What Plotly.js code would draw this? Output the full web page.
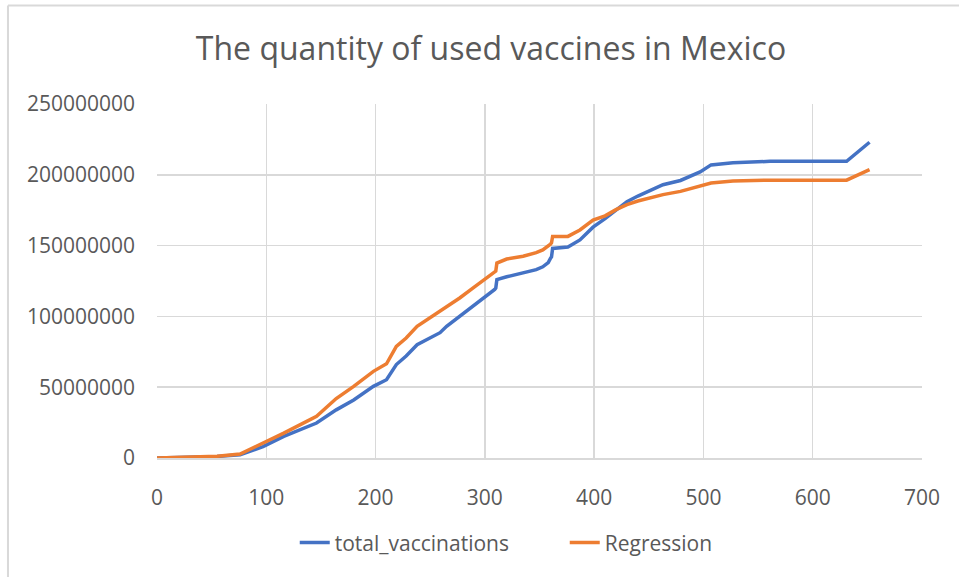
<!DOCTYPE html>
<html>
<head>
<meta charset="utf-8">
<script src="https://cdn.plot.ly/plotly-3.0.1.min.js"></script>
<style>
  html, body { margin: 0; padding: 0; background: #ffffff; }
  #chart { width: 959px; height: 577px; }
</style>
</head>
<body>
<div id="chart"></div>
<script>
// Day index since start of vaccination
const days = [0, 20, 40, 55, 76, 97, 116, 137, 146, 164, 180, 198, 204, 210, 219, 228, 238, 250, 259, 265, 277, 289, 300, 309, 310, 311, 320, 335, 347, 353, 358, 360, 361, 362, 376, 387, 399, 410, 420, 430, 440, 448, 463, 479, 497, 507, 527, 561, 600, 631, 652];

// total_vaccinations (doses)
const totalVaccinations = [0, 300000, 800000, 1100000, 2300000, 8000000, 15300000, 21500000, 24700000, 34000000, 41000000, 50600000, 53000000, 55300000, 66000000, 72000000, 80000000, 85000000, 88500000, 93000000, 100000000, 107000000, 113000000, 119000000, 120000000, 126000000, 128000000, 130500000, 133000000, 135000000, 138000000, 141000000, 142000000, 148000000, 149000000, 154000000, 163000000, 169000000, 175000000, 181000000, 185000000, 188000000, 193000000, 196000000, 202000000, 207000000, 208500000, 209500000, 209500000, 209500000, 223000000];

// Regression (doses)
const regression = [0, 400000, 1000000, 1200000, 2800000, 10500000, 17600000, 25900000, 29400000, 42000000, 50600000, 61200000, 63600000, 66500000, 78800000, 84700000, 93000000, 99000000, 103500000, 107000000, 113000000, 120000000, 126000000, 131500000, 132000000, 137700000, 140500000, 142500000, 145000000, 147000000, 149400000, 151000000, 152000000, 156500000, 156500000, 161000000, 168000000, 171000000, 175400000, 179000000, 181500000, 183000000, 186000000, 188300000, 191800000, 194200000, 195600000, 196200000, 196200000, 196200000, 203600000];

const seriesNames = ['total_vaccinations', 'Regression'];
const chartTitle = 'The quantity of used vaccines in Mexico';
const xTicks = [0, 100, 200, 300, 400, 500, 600, 700];
const yTicks = [0, 50000000, 100000000, 150000000, 200000000, 250000000];

const FONT = 'Open Sans, Liberation Sans, sans-serif';
const TXT = '#595959';
const GRID = '#d9d9d9';

const traces = [
  { x: days, y: totalVaccinations, name: seriesNames[0], type: 'scatter', mode: 'lines',
    line: { color: '#4472C4', width: 3.5 } },
  { x: days, y: regression, name: seriesNames[1], type: 'scatter', mode: 'lines',
    line: { color: '#ED7D31', width: 3.5 } }
];

const layout = {
  width: 959, height: 577,
  paper_bgcolor: '#ffffff', plot_bgcolor: '#ffffff',
  margin: { l: 157, r: 37, t: 104, b: 119 },
  font: { family: FONT, color: TXT, size: 21 },
  title: { text: chartTitle, font: { family: FONT, size: 32, color: TXT },
           x: 0.4366, xref: 'paper', xanchor: 'center', y: 0.915, yref: 'container', yanchor: 'middle' },
  xaxis: {
    range: [0, 700], tickmode: 'array', tickvals: xTicks, ticktext: xTicks.map(String),
    showgrid: true, gridcolor: GRID, gridwidth: 1.5, zeroline: false,
    showline: true, linecolor: GRID, linewidth: 1.5, ticks: '', ticklabelstandoff: 20,
    tickfont: { family: FONT, size: 21, color: TXT }, fixedrange: true
  },
  yaxis: {
    range: [0, 250000000], tickmode: 'array', tickvals: yTicks, ticktext: yTicks.map(String),
    showgrid: true, gridcolor: GRID, gridwidth: 1.5, zeroline: false,
    showline: false, ticks: '', ticklabelstandoff: 21,
    tickfont: { family: FONT, size: 21, color: TXT }, fixedrange: true
  },
  showlegend: true,
  legend: { orientation: 'h', x: 0.533, xanchor: 'center', y: -0.24, yanchor: 'middle',
            font: { family: FONT, size: 21, color: TXT }, entrywidth: 225, entrywidthmode: 'pixels',
            bgcolor: 'rgba(0,0,0,0)' },
  shapes: [
    { type: 'line', xref: 'paper', yref: 'paper', x0: -0.1948, x1: 1.2, y0: 1.278, y1: 1.278,
      line: { color: GRID, width: 2 } },
    { type: 'line', xref: 'paper', yref: 'paper', x0: -0.1948, x1: -0.1948, y0: 1.278, y1: -0.5,
      line: { color: GRID, width: 2 } }
  ]
};

Plotly.newPlot('chart', traces, layout, { displayModeBar: false, staticPlot: true });
</script>
</body>
</html>
